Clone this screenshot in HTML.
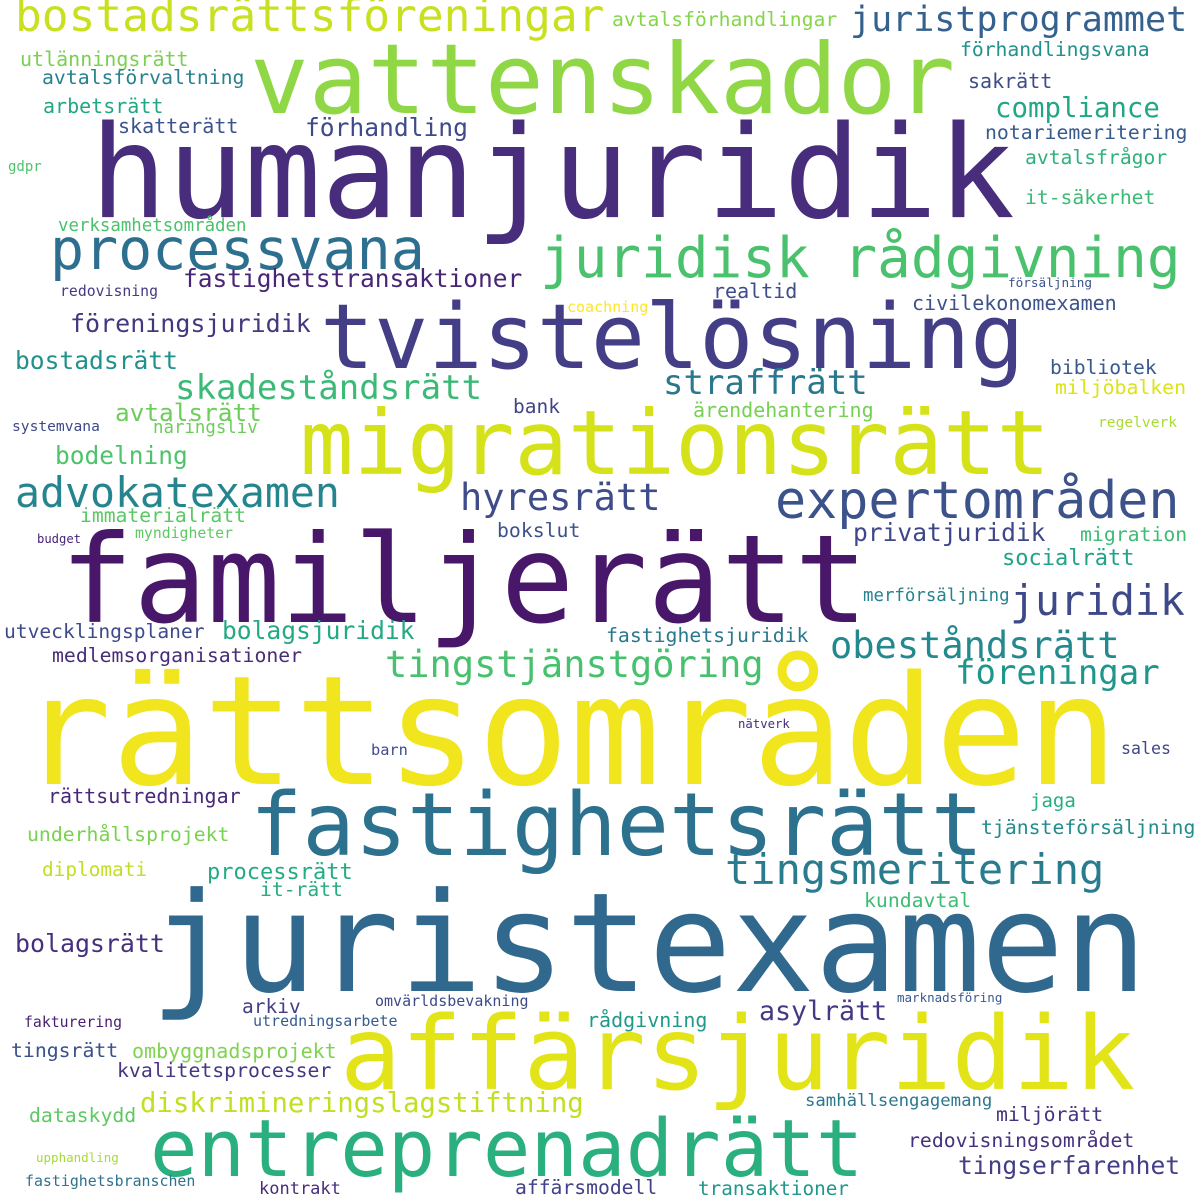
<!DOCTYPE html>
<html><head><meta charset="utf-8">
<style>
html,body{margin:0;padding:0;background:#fff;}
#cloud{position:relative;width:1200px;height:1200px;overflow:hidden;background:#fff;}
#cloud span{position:absolute;white-space:nowrap;line-height:1;font-family:"DejaVu Sans Mono","Liberation Mono",monospace;}
</style></head>
<body>
<div id="cloud"></div>
<script>
// word, left x, baseline y, font size, color
const words = [
["humanjuridik",90,218,128,"#472d7b"],
["vattenskador",250,115,97.6,"#8fd744"],
["familjerätt",60,622,122,"#481769"],
["rättsområden",20,785,152,"#f1e51d"],
["juristexamen",150,992,138,"#31688e"],
["affärsjuridik",340,1090,101.6,"#e2e418"],
["migrationsrätt",300,474,89,"#d5e21a"],
["tvistelösning",320,369,90,"#433e85"],
["fastighetsrätt",250,856,87,"#2c718e"],
["entreprenadrätt",150,1177,79,"#2ab07f"],
["processvana",50,270,56.6,"#2d6f8e"],
["juridisk rådgivning",540,278,56,"#4ac16d"],
["expertområden",775,520,51.7,"#3b528b"],
["tingsmeritering",725,885,42,"#287c8e"],
["bostadsrättsföreningar",15,33,44.5,"#c8e020"],
["juristprogrammet",850,33,35,"#34618d"],
["advokatexamen",15,507,41.5,"#25858e"],
["skadeståndsrätt",175,400,34,"#3aba76"],
["straffrätt",663,395,34,"#2a788e"],
["hyresrätt",460,510,37,"#3e4c8a"],
["juridik",1010,615,41.5,"#3e4989"],
["obeståndsrätt",830,658,37,"#23898e"],
["föreningar",955,685,34,"#1f968b"],
["tingstjänstgöring",385,677,37,"#48c16e"],
["compliance",995,118,27.4,"#22a785"],
["förhandling",305,137,24.6,"#3e4a89"],
["fastighetstransaktioner",183,288,24.5,"#482576"],
["föreningsjuridik",70,332,25,"#45377f"],
["bostadsrätt",15,370,24.6,"#21918c"],
["avtalsrätt",115,422,24.4,"#6ccd5a"],
["bodelning",55,465,24.5,"#4ec36b"],
["bolagsjuridik",222,640,24.6,"#24aa83"],
["privatjuridik",853,542,24.6,"#3f4788"],
["bolagsrätt",15,953,24.9,"#46307e"],
["diskrimineringslagstiftning",140,1113,27.3,"#c2df23"],
["asylrätt",759,1022,26.6,"#443983"],
["tingserfarenhet",958,1175,24.6,"#433e85"],
["socialrätt",1002,567,22,"#20a386"],
["processrätt",207,881,22,"#25ab82"],
["utlänningsrätt",20,66,20,"#7ad151"],
["avtalsförvaltning",42,85,19.8,"#26828e"],
["arbetsrätt",43,113,20,"#22a785"],
["skatterätt",118,133,20,"#3b528b"],
["avtalsförhandlingar",612,27,19.7,"#86d549"],
["förhandlingsvana",960,57,19.7,"#21918c"],
["sakrätt",968,88,20,"#3e4c8a"],
["notariemeritering",985,140,19.8,"#375b8d"],
["avtalsfrågor",1025,165,19.7,"#2db27d"],
["it-säkerhet",1025,205,19.7,"#3bbb75"],
["realtid",713,298,20,"#3e4c8a"],
["civilekonomexamen",912,310,20,"#3b528b"],
["bibliotek",1050,375,19.7,"#38598c"],
["miljöbalken",1055,395,19.8,"#dde318"],
["ärendehantering",693,417,20,"#75d054"],
["bank",513,413,19.5,"#414487"],
["immaterialrätt",80,523,19.7,"#5ac864"],
["bokslut",497,538,19.8,"#3b528b"],
["migration",1080,542,19.8,"#3dbc74"],
["utvecklingsplaner",4,639,19.6,"#3e4a89"],
["medlemsorganisationer",52,663,19.8,"#472c7a"],
["fastighetsjuridik",606,643,19.8,"#2a788e"],
["rättsutredningar",48,803,20,"#482878"],
["underhållsprojekt",27,842,19.8,"#7ad151"],
["diplomati",42,876,19.4,"#c0df25"],
["it-rätt",260,897,19.7,"#27ad81"],
["kundavtal",864,908,19.8,"#3dbc74"],
["arkiv",242,1013,19.5,"#433e85"],
["rådgivning",587,1027,20,"#1f9a8a"],
["tingsrätt",11,1058,19.8,"#3b518b"],
["ombyggnadsprojekt",132,1058,20,"#7fd34e"],
["kvalitetsprocesser",117,1078,19.8,"#453781"],
["dataskydd",29,1123,19.8,"#5ec962"],
["miljörätt",996,1122,19.8,"#46337f"],
["redovisningsområdet",908,1148,19.8,"#46307e"],
["affärsmodell",515,1195,19.7,"#424086"],
["transaktioner",698,1195,19.3,"#1f988b"],
["tjänsteförsäljning",981,835,19.8,"#228c8d"],
["jaga",1030,808,19,"#27ad81"],
["verksamhetsområden",58,233,17.4,"#4ac16d"],
["näringsliv",153,435,17.4,"#6ccd5a"],
["merförsäljning",863,603,17.4,"#26828e"],
["samhällsengagemang",805,1108,17.3,"#2a788e"],
["kontrakt",259,1195,17,"#472d7b"],
["sales",1121,755,16.6,"#3f4788"],
["barn",371,756,15.3,"#3e4c8a"],
["coachning",567,313,15,"#fde725"],
["omvärldsbevakning",375,1007,15,"#3e4a89"],
["utredningsarbete",253,1027,15,"#365c8d"],
["fastighetsbranschen",25,1187,14.9,"#2c728e"],
["redovisning",60,298,14.8,"#443a83"],
["myndigheter",135,540,14.8,"#5ec962"],
["fakturering",24,1029,14.8,"#481f70"],
["systemvana",12,432,14.6,"#3e4989"],
["regelverk",1098,428,14.6,"#a8db34"],
["gdpr",8,172,14,"#4ec36b"],
["försäljning",1008,288,12.7,"#3b528b"],
["marknadsföring",897,1003,12.5,"#38598c"],
["upphandling",36,1163,12.5,"#a5db36"],
["nätverk",738,728,12.3,"#472d7b"],
["budget",37,543,12.2,"#482475"]
];
const cloud = document.getElementById('cloud');
words.forEach(function(w){
  const el = document.createElement('span');
  el.textContent = w[0];
  
  
  el.style.left = w[1] + 'px';
  el.style.top = (w[2] - 0.846 * w[3]) + 'px';
  el.style.fontSize = w[3] + 'px';
  el.style.color = w[4];
  cloud.appendChild(el);
});
</script>
</body></html>
